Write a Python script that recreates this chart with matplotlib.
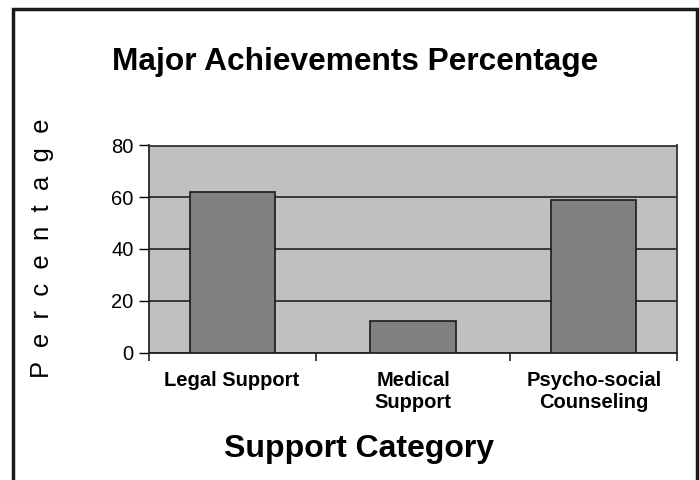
import matplotlib
matplotlib.use('Agg')
import matplotlib.pyplot as plt
from matplotlib.patches import Rectangle

categories = ['Legal Support', 'Medical\nSupport', 'Psycho-social\nCounseling']
values = [62, 12, 59]
yticks = [0, 20, 40, 60, 80]

plt.rcParams['font.family'] = ['Liberation Sans', 'DejaVu Sans']

W, H = 699, 480
fig = plt.figure(figsize=(W/100, H/100), dpi=100)
fig.patch.set_facecolor('white')

# plot area in pixel coords
ax = fig.add_axes([149/W, 1-352.5/H, (677-149)/W, (352.5-145.5)/H])
ax.set_facecolor('#c0c0c0')

pos = list(range(len(values)))
ax.bar(pos, values, width=0.47, color='#808080', edgecolor='#1a1a1a', linewidth=1.2, zorder=3)

ax.set_ylim(0, 80)
ax.set_xlim(-0.459, 2.459)
ax.set_yticks(yticks)
ax.yaxis.grid(True, color='#222222', linewidth=1.2, zorder=1)
ax.set_axisbelow(True)
ax.tick_params(axis='y', direction='out', length=7, width=1, colors='black', labelsize=14.5, pad=4)

ax.set_xticks(pos)
ax.set_xticklabels(categories, fontsize=14.5, fontweight='bold', linespacing=1.25, va='top')
ax.tick_params(axis='x', length=0, pad=13)
ax.set_xticks([-0.459, 0.464, 1.536, 2.459], minor=True)
ax.tick_params(axis='x', which='minor', direction='out', length=6, width=1.2, colors='#222222')

for s in ['left', 'bottom']:
    ax.spines[s].set_color('#222222')
    ax.spines[s].set_linewidth(1.3)
for s in ['top', 'right']:
    ax.spines[s].set_color('#333333')
    ax.spines[s].set_linewidth(1.3)

fig.text(355/W, 1-70/H, 'Major Achievements Percentage', ha='center', va='baseline',
         fontsize=22.8, fontweight='bold')
fig.text(359/W, 1-457/H, 'Support Category', ha='center', va='baseline',
         fontsize=23, fontweight='bold')
fig.text(42/W, 1-248/H, '  '.join('Percentage'), ha='center', va='center',
         rotation=90, fontsize=18.5)

# outer frame
fig.patches.append(Rectangle((13/W, -0.02), (697-13)/W, 1-9/H+0.02, transform=fig.transFigure,
                             fill=False, edgecolor='#1a1a1a', linewidth=2.5))

fig.savefig('out.png', dpi=100)
